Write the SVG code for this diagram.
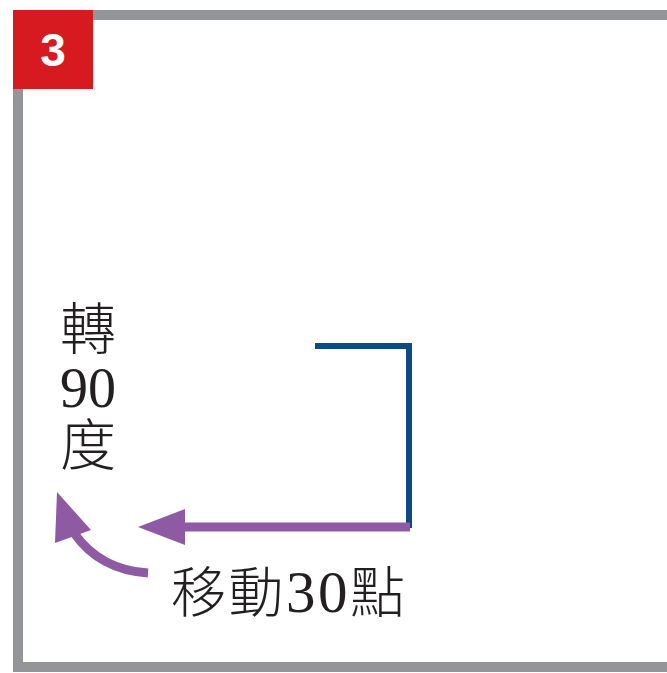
<svg xmlns="http://www.w3.org/2000/svg" width="667" height="673" viewBox="0 0 667 673">
<style>
.cjk{font-family:"Noto Sans CJK TC","Noto Sans CJK SC",sans-serif;font-weight:300;fill:#231f20}
.num{font-family:"Liberation Serif",serif;fill:#231f20}
.purple{fill:#8e5aa3}
</style>
<rect x="0" y="0" width="667" height="673" fill="#ffffff"/>
<g id="frame">
<path d="M667,15 H18 V667 H667" fill="none" stroke="#939598" stroke-width="10"/>
</g>
<g id="badge">
<rect x="13" y="10" width="80" height="79" fill="#d71920"/>
<text x="53" y="66" text-anchor="middle" font-family="Liberation Sans,Arial,sans-serif" font-weight="bold" font-size="46" fill="#ffffff">3</text>
</g>
<g id="path-blue">
<polyline points="315,346 409,346 409,528" fill="none" stroke="#0b4a84" stroke-width="6"/>
</g>
<g id="connectors">
<line x1="410" y1="527" x2="180" y2="527" stroke="#8e5aa3" stroke-width="9"/>
<polygon class="purple" points="138,527 185,509 185,545"/>
<path d="M148,573 Q100,570 74,533" fill="none" stroke="#8e5aa3" stroke-width="9"/>
<polygon class="purple" points="57,492 55,543 91,530"/>
</g>
<g id="label-turn">
<text text-anchor="middle" class="cjk" font-size="56"><tspan x="88" y="349">轉</tspan><tspan x="88" y="407" class="num">90</tspan><tspan x="88" y="465">度</tspan></text>
</g>
<g id="label-move">
<text x="171" y="612" class="cjk" font-size="55" letter-spacing="2.5">移動<tspan class="num" font-size="59">30</tspan>點</text>
</g>
</svg>
